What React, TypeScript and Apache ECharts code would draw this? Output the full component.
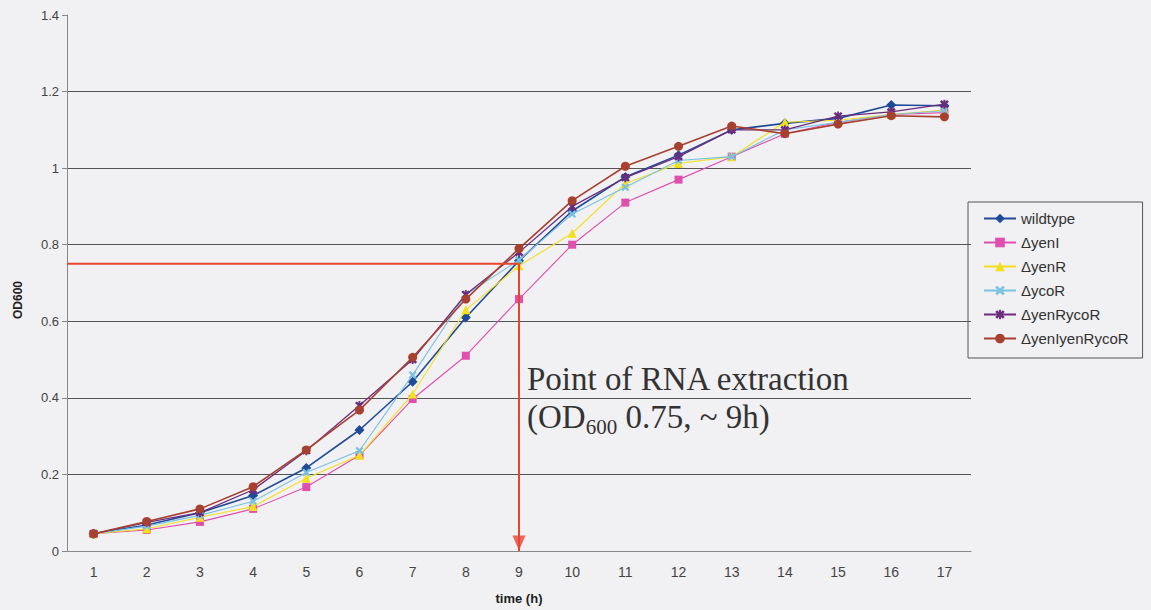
import React, { useEffect, useRef } from "react";
import * as echarts from "echarts";

const hours = ["1","2","3","4","5","6","7","8","9","10","11","12","13","14","15","16","17"];
const yTicks = [0, 0.2, 0.4, 0.6, 0.8, 1, 1.2, 1.4];

const wildtype = [0.045, 0.068, 0.1, 0.145, 0.217, 0.316, 0.442, 0.61, 0.758, 0.888, 0.977, 1.034, 1.1, 1.117, 1.13, 1.165, 1.163];
const yenI = [0.045, 0.055, 0.076, 0.11, 0.167, 0.25, 0.397, 0.51, 0.658, 0.8, 0.91, 0.97, 1.03, 1.09, 1.12, 1.14, 1.145];
const yenR = [0.045, 0.058, 0.088, 0.116, 0.19, 0.25, 0.41, 0.63, 0.745, 0.83, 0.96, 1.012, 1.03, 1.12, 1.125, 1.14, 1.152];
const ycoR = [0.045, 0.065, 0.093, 0.13, 0.205, 0.262, 0.46, 0.67, 0.76, 0.88, 0.95, 1.02, 1.03, 1.1, 1.12, 1.14, 1.15];
const yenRycoR = [0.045, 0.075, 0.1, 0.16, 0.262, 0.38, 0.5, 0.67, 0.78, 0.9, 0.975, 1.03, 1.1, 1.1, 1.136, 1.147, 1.167];
const yenIyenRycoR = [0.045, 0.077, 0.11, 0.168, 0.264, 0.368, 0.506, 0.658, 0.79, 0.915, 1.005, 1.057, 1.11, 1.09, 1.115, 1.137, 1.134];

const extractionTime = 9;
const extractionOD = 0.75;
const axisStart = 0.5;

const seriesNames = ["wildtype", "\u0394yenI", "\u0394yenR", "\u0394ycoR", "\u0394yenRycoR", "\u0394yenIyenRycoR"];
const seriesValues = [wildtype, yenI, yenR, ycoR, yenRycoR, yenIyenRycoR];

const X_PATH = "path://M0,2 L2,0 L5,3 L8,0 L10,2 L7,5 L10,8 L8,10 L5,7 L2,10 L0,8 L3,5 Z";
const STAR_PATH = "path://M0,2 L2,0 L5,3 L8,0 L10,2 L7,5 L10,8 L8,10 L5,7 L2,10 L0,8 L3,5 Z M4,-0.5 L6,-0.5 L6,10.5 L4,10.5 Z";

const styles = [
  { color: "#1f4a98", symbol: "diamond", size: 10, width: 1.6 },
  { color: "#e04fae", symbol: "rect", size: 8, width: 1.1 },
  { color: "#f3e01a", symbol: "triangle", size: 9, width: 1.1 },
  { color: "#78c2e2", symbol: X_PATH, size: 8, width: 1.1 },
  { color: "#6a2c7c", symbol: STAR_PATH, size: 9, width: 1.3 },
  { color: "#a8402f", symbol: "circle", size: 9, width: 1.6 },
];

export default function App() {
  const ref = useRef<HTMLDivElement>(null);
  useEffect(() => {
    if (!ref.current) return;
    const chart = echarts.init(ref.current, null, { renderer: "svg" });
    const font = "Arial, 'Liberation Sans', sans-serif";
    const serif = "'Times New Roman', 'Liberation Serif', serif";
    const lineSeries = seriesNames.map((name, i) => ({
      name,
      type: "line",
      data: seriesValues[i],
      symbol: styles[i].symbol,
      symbolSize: styles[i].size,
      itemStyle: { color: styles[i].color },
      lineStyle: { color: styles[i].color, width: styles[i].width },
      z: 3 + i,
    }));
    chart.setOption({
      animation: false,
      backgroundColor: "#f1f0f3",
      grid: { left: 67, right: 180, top: 15, bottom: 59 },
      legend: {
        data: seriesNames,
        orient: "vertical",
        left: 968,
        top: 202,
        padding: [9, 14, 12, 15],
        itemWidth: 32,
        itemHeight: 12,
        itemGap: 9,
        borderColor: "#555",
        borderWidth: 1,
        textStyle: { fontFamily: font, fontSize: 15, color: "#333" },
      },
      xAxis: [
        {
          type: "category",
          data: hours,
          boundaryGap: true,
          axisLine: { lineStyle: { color: "#888" } },
          axisTick: { length: 5, lineStyle: { color: "#888" } },
          axisLabel: { fontFamily: font, fontSize: 14, color: "#444", margin: 14 },
          splitLine: { show: false },
        },
        { type: "value", min: axisStart, max: hours.length + axisStart, show: false },
      ],
      yAxis: {
        type: "value",
        min: yTicks[0],
        max: yTicks[yTicks.length - 1],
        interval: 0.2,
        axisLine: { show: true, lineStyle: { color: "#888" } },
        axisTick: { show: true, length: 5, lineStyle: { color: "#888" } },
        axisLabel: { fontFamily: font, fontSize: 13, color: "#444", margin: 8 },
        splitLine: { show: true, showMaxLine: false, lineStyle: { color: "#555", width: 1 } },
      },
      graphic: [
        {
          type: "text",
          x: 18,
          y: 300,
          rotation: Math.PI / 2,
          style: { text: "OD600", font: `bold 12px ${font}`, fill: "#222", align: "center", verticalAlign: "middle" },
        },
        {
          type: "text",
          x: 519,
          y: 598,
          style: { text: "time (h)", font: `bold 13px ${font}`, fill: "#222", align: "center", verticalAlign: "middle" },
        },
        {
          type: "text",
          x: 527,
          y: 379,
          style: { text: "Point of RNA extraction", font: `33px ${serif}`, fill: "#333", align: "left", verticalAlign: "middle" },
        },
        {
          type: "text",
          x: 527,
          y: 397,
          style: {
            text: "{a|(OD}{s|600}{a| 0.75, ~ 9h)}",
            fill: "#333",
            align: "left",
            verticalAlign: "top",
            rich: {
              a: { fontFamily: serif, fontSize: 33, lineHeight: 40, verticalAlign: "middle", fill: "#333" },
              s: { fontFamily: serif, fontSize: 21, lineHeight: 20, verticalAlign: "bottom", fill: "#333" },
            },
          },
        },
      ],
      series: [
        ...lineSeries,
        {
          name: "extraction",
          type: "line",
          xAxisIndex: 1,
          data: [[axisStart, extractionOD], [extractionTime, extractionOD], [extractionTime, 0]],
          symbol: "none",
          lineStyle: { color: "#e8452f", width: 2 },
          z: 10,
          silent: true,
        },
        {
          name: "arrow",
          type: "scatter",
          xAxisIndex: 1,
          data: [[extractionTime, 0]],
          symbol: "triangle",
          symbolRotate: 180,
          symbolSize: [13, 15],
          symbolOffset: [0, -8],
          itemStyle: { color: "#e8452f" },
          z: 11,
          silent: true,
        },
      ],
    });
    return () => chart.dispose();
  }, []);
  return <div ref={ref} style={{ position: "fixed", left: 0, top: 0, width: 1151, height: 610 }} />;
}
